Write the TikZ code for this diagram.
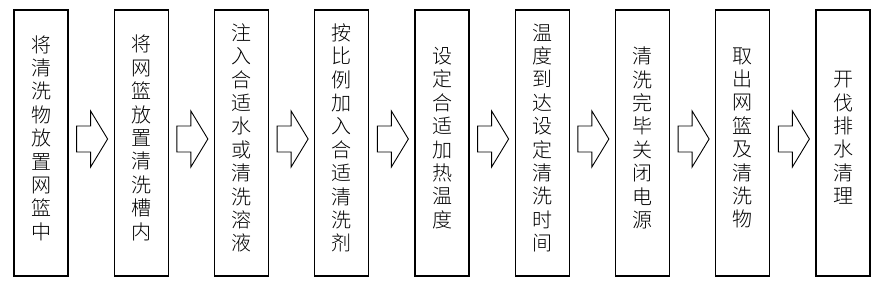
\documentclass[tikz,border=0pt]{standalone}
\usepackage{fontspec}
\newfontfamily\cjk{Noto Sans CJK SC Light}
\usetikzlibrary{positioning,calc}

\begin{document}
\begin{tikzpicture}[
    x=1pt, y=1pt,
    stepbox/.style={draw, line width=1.2pt, minimum width=54pt,
                    minimum height=266pt, inner sep=0pt},
    steptext/.style={font=\cjk\fontsize{20}{23.4}\selectfont, align=center,
                     inner sep=0pt},
    flow/.style={draw, line width=0.9pt, line join=miter},
  ]
\useasboundingbox (0,0) rectangle (886,290);

% process steps
\foreach \i/\txt in {1/将\\清\\洗\\物\\放\\置\\网\\篮\\中,
                     2/将\\网\\篮\\放\\置\\清\\洗\\槽\\内,
                     3/注\\入\\合\\适\\水\\或\\清\\洗\\溶\\液,
                     4/按\\比\\例\\加\\入\\合\\适\\清\\洗\\剂,
                     5/设\\定\\合\\适\\加\\热\\温\\度,
                     6/温\\度\\到\\达\\设\\定\\清\\洗\\时\\间,
                     7/清\\洗\\完\\毕\\关\\闭\\电\\源,
                     8/取\\出\\网\\篮\\及\\清\\洗\\物,
                     9/开\\伐\\排\\水\\清\\理} {
  \node[stepbox] (s\i) at ({41+100.25*(\i-1)},147) {};
  \node[steptext] (t\i) at ([yshift=5pt]s\i.center) {\txt};
}

% block arrows between steps
\foreach \i [evaluate=\i as \j using int(\i+1)] in {1,...,8} {
  \coordinate (m\i) at ($(s\i.east)!0.5!(s\j.west)+(1,4)$);
  \draw[flow] (m\i) ++(-15.5,13) -- ++(14,0) -- ++(0,15) -- ++(17,-28)
    -- ++(-17,-28) -- ++(0,15) -- ++(-14,0) -- cycle;
}

\end{tikzpicture}
\end{document}
